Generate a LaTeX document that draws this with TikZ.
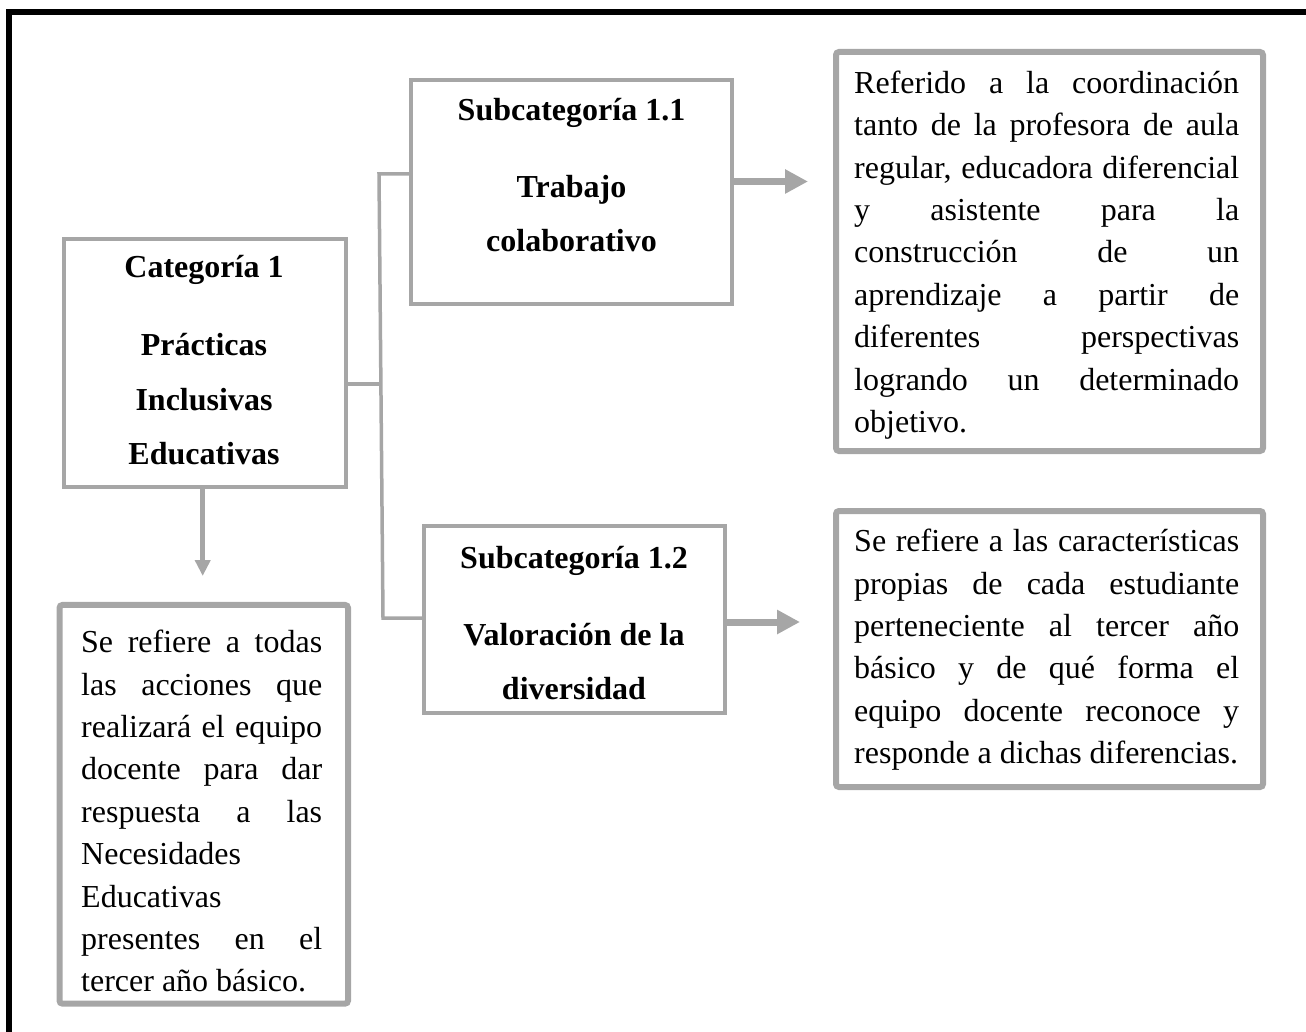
\documentclass[tikz,border=0pt]{standalone}
\usepackage{fontspec}
\setmainfont{Liberation Serif}
\usetikzlibrary{arrows.meta}
\definecolor{boxgray}{HTML}{A6A6A6}
\newcommand\nohyphens{\hyphenpenalty=10000\exhyphenpenalty=10000\relax}
\begin{document}
\begin{tikzpicture}[x=1pt,y=-1pt,
  thinbox/.style={draw=boxgray, line width=4pt, inner sep=0pt, outer sep=0pt},
  thickbox/.style={draw=boxgray, line width=6pt, rounded corners=3pt, inner sep=0pt, outer sep=0pt},
  head/.style={font=\bfseries\fontsize{32}{42}\selectfont, inner sep=0pt, anchor=base},
  para/.style={font=\fontsize{32}{42.4}\selectfont, inner sep=0pt, anchor=base west, align=justify},
  link/.style={draw=boxgray, line width=3.5pt},
  bigarrow/.style={draw=boxgray, line width=7pt, -{Triangle[length=23pt,width=23pt]}},
  downarrow/.style={draw=boxgray, line width=5pt, -{Triangle[length=16pt,width=15pt]}}
]
\useasboundingbox (0,0) rectangle (1306,1032);
% outer frame (top and left only)
\draw[line width=6pt, line join=miter] (9,1045) -- (9,12) -- (1320,12);

% boxes
\node[thinbox, minimum width=282pt, minimum height=248pt] (cat) at (205,363) {};
\node[thinbox, minimum width=321pt, minimum height=224pt] (s11) at (571.5,192) {};
\node[thinbox, minimum width=301pt, minimum height=187pt] (s12) at (574.5,619.5) {};
\node[thickbox, minimum width=427pt, minimum height=399pt] (d1) at (1049.5,251.5) {};
\node[thickbox, minimum width=427pt, minimum height=276pt] (d2) at (1049.5,649) {};
\node[thickbox, minimum width=288.5pt, minimum height=398.7pt] (d0) at (203.75,804.3) {};

% headings
\node[head] (c1) at (204,278) {Categoría 1};
\node[head] (c2) at (204,355) {Prácticas};
\node[head] (c3) at (204,410) {Inclusivas};
\node[head] (c4) at (204,464) {Educativas};

\node[head] (a1) at (571.5,121) {Subcategoría 1.1};
\node[head] (a2) at (571.5,198) {Trabajo};
\node[head] (a3) at (571.5,252) {colaborativo};

\node[head] (b1) at (574,568) {Subcategoría 1.2};
\node[head] (b2) at (574,645) {Valoración de la};
\node[head] (b3) at (574,699) {diversidad};

% paragraphs
\node[para, text width=385pt] (p1) at (854,93.3) {\nohyphens Referido a la coordinación\linebreak
tanto de la profesora de aula\linebreak
regular, educadora diferencial\linebreak
y asistente para la\linebreak
construcción de un\linebreak
aprendizaje a partir de\linebreak
diferentes perspectivas\linebreak
logrando un determinado\linebreak
objetivo.};

\node[para, text width=385pt] (p2) at (854,551.7) {\nohyphens Se refiere a las características\linebreak
propias de cada estudiante\linebreak
perteneciente al tercer año\linebreak
básico y de qué forma el\linebreak
equipo docente reconoce y\linebreak
responde a dichas diferencias.};

\node[para, text width=241pt] (p0) at (81,652.7) {\nohyphens Se refiere a todas\linebreak
las acciones que\linebreak
realizará el equipo\linebreak
docente para dar\linebreak
respuesta a las\linebreak
Necesidades\linebreak
Educativas\linebreak
presentes en el\linebreak
tercer año básico.};

% connectors
\coordinate (j0) at (381,384);
\coordinate (j1) at (379,174);
\coordinate (j2) at (383,618);
\draw[link] (cat.east |- j0) -- (j0);
\draw[link] (s11.west |- j1) -- (j1) -- (j2) -- (s12.west |- j2);

% arrows
\coordinate (t1) at (808,181.5);
\coordinate (t2) at (800,622);
\coordinate (t3) at (202.7,576);
\draw[bigarrow] (s11.east |- t1) -- (t1);
\draw[bigarrow] (s12.east |- t2) -- (t2);
\draw[downarrow] (cat.south -| t3) -- (t3);
\end{tikzpicture}
\end{document}
